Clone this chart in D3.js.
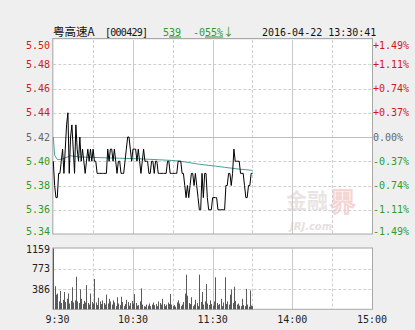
<!DOCTYPE html>
<html><head><meta charset="utf-8">
<script src="https://cdn.jsdelivr.net/npm/d3@7"></script>
<style>html,body{margin:0;padding:0;background:#f0efef;}svg{display:block;}</style>
</head><body>
<svg id="c" width="415" height="330"></svg>
<script>
// ---- data ----
const stockName = "粤高速A";
const stockCode = "[000429]";
const lastPrice = "539";
const changeText = "-055%↓";
const timestamp = "2016-04-22 13:30:41";
const prevClose = 5.42;
const priceTicks = [5.50,5.48,5.46,5.44,5.42,5.40,5.38,5.36,5.34];
const pctLabels = ["+1.49%","+1.11%","+0.74%","+0.37%","0.00%","-0.37%","-0.74%","-1.11%","-1.49%"];
const timeTickMinutes = [0,60,120,180,240];
const timeTickLabels = ["9:30","10:30","11:30","14:00","15:00"];
const volumeTicks = [1159,773,386];
// one value per minute from 9:30 (minute 0) to 13:30 (minute 150, lunch break collapsed)
const prices = [
5.40,5.38,5.37,5.37,5.39,5.39,5.40,5.41,5.39,5.41,
5.43,5.44,5.39,5.42,5.43,5.41,5.39,5.43,5.41,5.40,
5.42,5.40,5.41,5.40,5.39,5.40,5.41,5.40,5.41,5.40,
5.41,5.40,5.40,5.39,5.39,5.39,5.39,5.39,5.39,5.39,
5.39,5.41,5.40,5.41,5.41,5.40,5.41,5.40,5.39,5.40,
5.40,5.39,5.39,5.39,5.40,5.41,5.42,5.42,5.41,5.40,
5.41,5.41,5.41,5.40,5.41,5.40,5.39,5.40,5.41,5.40,
5.40,5.40,5.39,5.39,5.40,5.40,5.39,5.40,5.40,5.39,
5.39,5.39,5.39,5.39,5.39,5.39,5.40,5.40,5.39,5.39,
5.39,5.39,5.39,5.39,5.40,5.40,5.40,5.39,5.39,5.38,
5.37,5.38,5.37,5.38,5.39,5.39,5.38,5.39,5.38,5.37,
5.36,5.36,5.39,5.37,5.39,5.39,5.37,5.36,5.36,5.36,
5.37,5.37,5.37,5.37,5.36,5.36,5.36,5.36,5.36,5.36,
5.38,5.38,5.39,5.39,5.38,5.39,5.41,5.40,5.40,5.40,
5.40,5.39,5.39,5.39,5.38,5.37,5.37,5.38,5.38,5.39,
5.39];
const avgMinutes = [0,1,3,5,7,13,20,35,50,65,80,92,99,110,122,129,140,150];
const avgValues  = [5.420,5.405,5.4015,5.4015,5.402,5.4045,5.4035,5.403,5.4025,5.402,5.4012,5.4005,5.3995,5.3975,5.396,5.395,5.3935,5.3925];
const volumes = [
1159,440,280,300,150,350,120,180,330,140,
200,300,110,160,420,130,170,620,150,120,
380,200,100,160,130,460,120,90,300,140,
110,580,130,80,220,150,100,170,120,90,
280,110,200,150,90,170,130,60,230,110,
80,240,140,60,100,180,140,70,120,160,
110,290,120,70,80,150,400,90,60,50,
90,70,110,60,90,130,80,100,60,150,
120,90,200,100,60,90,130,100,290,90,
60,80,50,130,170,110,60,90,140,300,
660,260,120,100,230,60,90,180,120,60,
660,140,330,90,150,480,110,80,170,100,
70,150,610,120,80,100,200,60,130,610,
100,150,90,280,380,120,430,160,90,110,
70,60,200,80,60,390,90,50,360,70,
60];

// ---- layout ----
const svg = d3.select("#c");
const L = 53.3, R = 372, T = 40, B = 234;
const VT = 248.5, VB = 309.3;
const x = d3.scaleLinear().domain([0,240]).range([L,R]);
const y = d3.scaleLinear().domain([5.34,5.50]).range([B,T]);
const yv = d3.scaleLinear().domain([0,1159]).range([VB,VT]);
const mono = "'DejaVu Sans Mono', monospace";
const cjk = "'Noto Sans CJK SC', sans-serif";
const red = "#d01818", green = "#2f9a2f", gray = "#666";

svg.append("rect").attr("width",415).attr("height",330).attr("fill","#f0efef");

// panels
svg.append("rect").attr("x",L).attr("y",T).attr("width",R-L).attr("height",B-T).attr("fill","#fff");
svg.append("rect").attr("x",L).attr("y",VT).attr("width",R-L).attr("height",VB-VT).attr("fill","#fff");

// watermark
const wm = svg.append("g").attr("font-family",cjk).attr("font-weight","bold");
wm.append("text").attr("x",286).attr("y",208).attr("font-size",21).attr("fill","#e9e4e4").text("金融");
wm.append("text").attr("x",330).attr("y",211).attr("font-size",25).attr("fill","none").attr("stroke","#f5d4d4").attr("stroke-width",2).text("界");
wm.append("text").attr("x",290).attr("y",230).attr("font-size",10).attr("font-style","italic").attr("font-family","'DejaVu Sans', sans-serif").attr("fill","#e6e0e0").text("JRJ.com");

// grid lines (vertical, both panels)
const vMins = d3.range(0,241,30);
[[T,B],[VT,VB]].forEach(([t,b])=>{
  svg.append("g").selectAll("line").data(vMins.filter(m=>m>0&&m<240)).join("line")
    .attr("x1",d=>Math.round(x(d))+0.5).attr("x2",d=>Math.round(x(d))+0.5)
    .attr("y1",t).attr("y2",b)
    .attr("stroke",d=>d%60===0?"#c8c8c8":"#cfcfcf")
    .attr("stroke-dasharray",d=>d%60===0?null:"3,2");
});
// horizontal grid main
svg.append("g").selectAll("line").data(priceTicks.slice(1,-1)).join("line")
  .attr("x1",L).attr("x2",R)
  .attr("y1",d=>Math.round(y(d))+0.5).attr("y2",d=>Math.round(y(d))+0.5)
  .attr("stroke",d=>Math.abs(d-prevClose)<1e-6?"#bdbdbd":"#cfcfcf")
  .attr("stroke-dasharray",d=>Math.abs(d-prevClose)<1e-6?null:"3,2");
// horizontal grid volume
svg.append("g").selectAll("line").data(volumeTicks.slice(1)).join("line")
  .attr("x1",L).attr("x2",R)
  .attr("y1",d=>Math.round(yv(d))+0.5).attr("y2",d=>Math.round(yv(d))+0.5)
  .attr("stroke","#cfcfcf").attr("stroke-dasharray","3,2");

// borders
svg.append("rect").attr("x",L-0.5).attr("y",T-1.5).attr("width",R-L+1).attr("height",B-T+1.5).attr("fill","none").attr("stroke","#a8a8a8");
svg.append("rect").attr("x",L-0.5).attr("y",VT-0.5).attr("width",R-L+1).attr("height",VB-VT+0.5).attr("fill","none").attr("stroke","#a8a8a8");

// volume bars
svg.append("g").selectAll("rect").data(volumes).join("rect")
  .attr("x",(d,i)=>Math.round(x(i)))
  .attr("width",1)
  .attr("y",d=>yv(d))
  .attr("height",d=>VB-yv(d))
  .attr("fill","#5a5a5a");

// average line
const avgData = avgMinutes.map((m,i)=>[m,avgValues[i]]);
svg.append("path").datum(avgData)
  .attr("d",d3.line().x(d=>x(d[0])).y(d=>y(d[1])))
  .attr("fill","none").attr("stroke","#4a9f9a").attr("stroke-width",1);

// price line
svg.append("path").datum(prices)
  .attr("d",d3.line().x((d,i)=>x(i)).y(d=>y(d)))
  .attr("fill","none").attr("stroke","#000").attr("stroke-width",1);

// left price labels
const clampY = v=>Math.max(45,Math.min(231,y(v)));
svg.append("g").selectAll("text").data(priceTicks).join("text")
  .attr("x",50).attr("y",d=>clampY(d)).attr("dy","0.36em")
  .attr("text-anchor","end").attr("font-family",mono).attr("font-size",10)
  .attr("fill",d=>d>prevClose+1e-6?red:(d<prevClose-1e-6?green:gray))
  .text(d=>d.toFixed(2));
// right pct labels
svg.append("g").selectAll("text").data(priceTicks).join("text")
  .attr("x",373).attr("y",d=>clampY(d)).attr("dy","0.36em")
  .attr("text-anchor","start").attr("font-family",mono).attr("font-size",10)
  .attr("fill",d=>d>prevClose+1e-6?red:(d<prevClose-1e-6?green:gray))
  .text((d,i)=>pctLabels[i]);
// volume labels
svg.append("g").selectAll("text").data(volumeTicks).join("text")
  .attr("x",50).attr("y",d=>Math.max(249.5,yv(d))).attr("dy","0.36em")
  .attr("text-anchor","end").attr("font-family",mono).attr("font-size",10)
  .attr("fill","#222").text(d=>d);
// time labels
svg.append("g").selectAll("text").data(timeTickMinutes).join("text")
  .attr("x",d=>Math.max(57.5,x(d))).attr("y",319).attr("dy","0.36em")
  .attr("text-anchor","middle").attr("font-family",mono).attr("font-size",10)
  .attr("fill","#222").text((d,i)=>timeTickLabels[i]);

// header
svg.append("text").attr("x",53).attr("y",36).attr("font-family",cjk).attr("font-size",11.5).attr("fill","#111").text(stockName);
svg.append("text").attr("x",105).attr("y",35.5).attr("font-family",mono).attr("font-size",10).attr("textLength",43).attr("fill","#111").text(stockCode);
const lp = svg.append("text").attr("x",163).attr("y",35.5).attr("font-family",mono).attr("font-size",10).attr("fill",green);
lp.append("tspan").text(lastPrice.slice(0,1));
lp.append("tspan").attr("text-decoration","underline").text(lastPrice.slice(1));
const ch = svg.append("text").attr("x",193).attr("y",35.5).attr("font-family",mono).attr("font-size",10).attr("fill",green);
ch.append("tspan").text(changeText.slice(0,2));
ch.append("tspan").attr("text-decoration","underline").text(changeText.slice(2,5));
ch.append("tspan").attr("font-family",cjk).attr("font-size",11).text(changeText.slice(5));
svg.append("text").attr("x",262).attr("y",35.5).attr("font-family",mono).attr("font-size",10).attr("fill","#111").text(timestamp);
</script>
</body></html>
